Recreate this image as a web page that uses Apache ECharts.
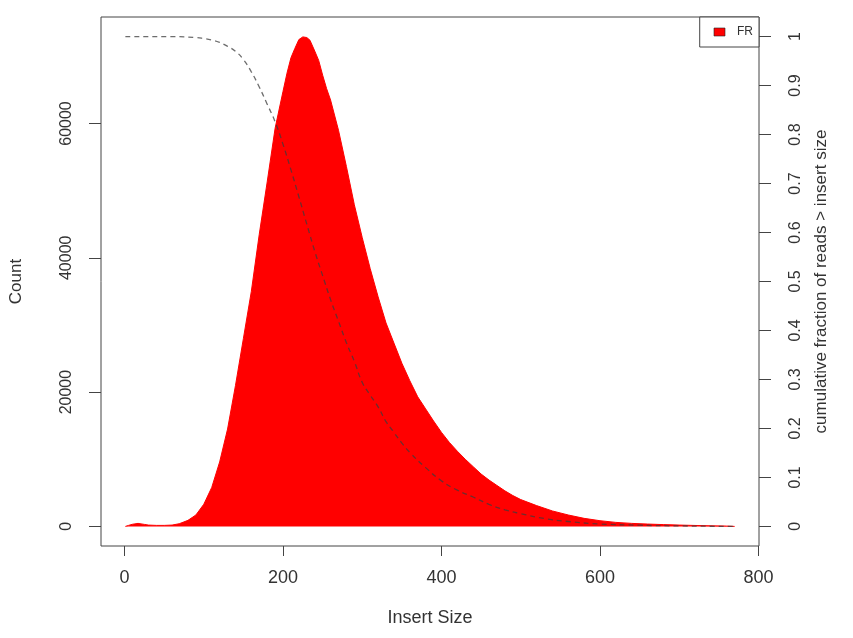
<!DOCTYPE html>
<html>
<head>
<meta charset="utf-8">
<script src="https://cdn.jsdelivr.net/npm/echarts@6/dist/echarts.min.js"></script>
<style>
html,body{margin:0;padding:0;background:#ffffff;}
#chart{width:853px;height:638px;}
</style>
</head>
<body>
<div id="chart"></div>
<script>
// Histogram of insert sizes
const insertSize = [1,5,10,17,25,30,40,50,60,69,80,90,100,110,120,130,140,150,160,170,180,190,200,205,210,215,220,225,230,234,240,245,250,255,260,270,280,290,300,310,320,330,340,350,360,370,380,390,400,410,420,430,440,450,460,470,480,490,500,520,540,560,580,600,620,640,660,680,700,720,740,760,770];
const readCount = [0,150,320,450,300,200,150,150,200,400,900,1700,3300,5800,9600,14500,21000,28000,35000,43500,51300,59300,64800,67500,69800,71200,72500,72900,72800,72400,70800,69400,67200,65200,63500,59000,53600,47900,43000,38400,34200,30300,27300,24300,21700,19300,17500,15700,14000,12500,11200,10000,8900,7800,6900,6100,5300,4600,4000,3100,2300,1700,1200,850,600,450,350,270,200,140,90,50,0];

// Cumulative fraction of reads > insert size (dashed line, right axis)
const cumX = [1,60,90,100,110,120,130,140,150,160,170,180,190,200,210,220,230,240,250,260,270,280,290,300,310,320,330,340,350,360,380,400,420,440,460,480,500,530,560,600,650,700,770];
const cumFrac = [1,1,0.998,0.996,0.993,0.988,0.980,0.970,0.953,0.928,0.897,0.862,0.826,0.780,0.728,0.673,0.617,0.562,0.512,0.463,0.419,0.375,0.337,0.294,0.268,0.244,0.214,0.192,0.170,0.151,0.120,0.093,0.074,0.060,0.045,0.034,0.026,0.016,0.010,0.005,0.0025,0.001,0];

const xTicks = [0,200,400,600,800];
const countTicks = [0,20000,40000,60000];
const fracTicks = [0,0.1,0.2,0.3,0.4,0.5,0.6,0.7,0.8,0.9,1];

const maxCount = 72944;   // count that corresponds to fraction 1
const xMin = 1, xMax = 770;

// R-style 4% axis extension
const xPad = (xMax - xMin) * 0.04;
const yPad = maxCount * 0.04;

const histData = insertSize.map((x, i) => [x, readCount[i]]);
const cumData = cumX.map((x, i) => [x, cumFrac[i]]);

const txt = '#333333';
const axisCol = '#444444';
const font = '"Liberation Sans", Arial, Helvetica, sans-serif';

const chart = echarts.init(document.getElementById('chart'), null, {renderer: 'canvas'});
chart.setOption({
  animation: false,
  backgroundColor: '#ffffff',
  textStyle: {fontFamily: font},
  grid: {
    left: 101, right: 94, top: 17, bottom: 92,
    show: true, borderColor: axisCol, borderWidth: 1,
    backgroundColor: 'transparent',
    outerBoundsMode: 'none'
  },
  legend: {
    data: [{name: 'FR', icon: 'rect', itemStyle: {color: '#ff0000', borderColor: '#222', borderWidth: 0.6}}],
    right: 94, top: 17,
    backgroundColor: '#ffffff',
    borderColor: axisCol, borderWidth: 1, borderRadius: 0,
    padding: [9, 6, 9, 14],
    itemWidth: 11, itemHeight: 8,
    selectedMode: false,
    textStyle: {fontSize: 12, color: txt, fontFamily: font, padding: [0, 0, 0, 7]}
  },
  xAxis: {
    type: 'value',
    min: xMin - xPad, max: xMax + xPad,
    axisLine: {show: false, onZero: false},
    splitLine: {show: false},
    axisTick: {show: true, customValues: xTicks, length: 10, lineStyle: {color: axisCol}},
    axisLabel: {customValues: xTicks, fontSize: 18, color: txt, margin: 23, fontFamily: font,
      formatter: v => String(v)},
    name: 'Insert Size', nameLocation: 'middle', nameGap: 63,
    nameTextStyle: {fontSize: 18, color: txt, fontFamily: font}
  },
  yAxis: [{
    type: 'value', position: 'left',
    min: -yPad, max: maxCount + yPad,
    axisLine: {show: false, onZero: false},
    splitLine: {show: false},
    axisTick: {show: true, customValues: countTicks, length: 12, lineStyle: {color: axisCol}},
    axisLabel: {customValues: countTicks, rotate: 90, fontSize: 16, color: txt, margin: 26, fontFamily: font,
      formatter: v => String(v)},
    name: 'Count', nameLocation: 'middle', nameGap: 76, nameRotate: 90,
    nameTextStyle: {fontSize: 17, color: txt, fontFamily: font}
  }, {
    type: 'value', position: 'right',
    min: -0.04, max: 1.04,
    axisLine: {show: false, onZero: false},
    splitLine: {show: false},
    axisTick: {show: true, customValues: fracTicks, length: 12, lineStyle: {color: axisCol}},
    axisLabel: {customValues: fracTicks, rotate: 90, fontSize: 16, color: txt, margin: 29, fontFamily: font,
      formatter: v => String(Math.round(v * 10) / 10)},
    name: 'cumulative fraction of reads > insert size', nameLocation: 'middle', nameGap: 54, nameRotate: 90,
    nameTextStyle: {fontSize: 17, color: txt, fontFamily: font}
  }],
  series: [{
    name: 'FR',
    type: 'line',
    data: histData,
    symbol: 'none',
    smooth: false,
    itemStyle: {color: '#ff0000'},
    lineStyle: {color: '#ff0000', width: 1},
    areaStyle: {color: '#ff0000', opacity: 1},
    z: 2
  }, {
    name: 'cumulative',
    type: 'line',
    yAxisIndex: 1,
    data: cumData,
    symbol: 'none',
    smooth: true,
    lineStyle: {color: 'rgba(60,60,60,0.75)', width: 1.3, type: [5, 4]},
    z: 3
  }]
});
</script>
</body>
</html>
